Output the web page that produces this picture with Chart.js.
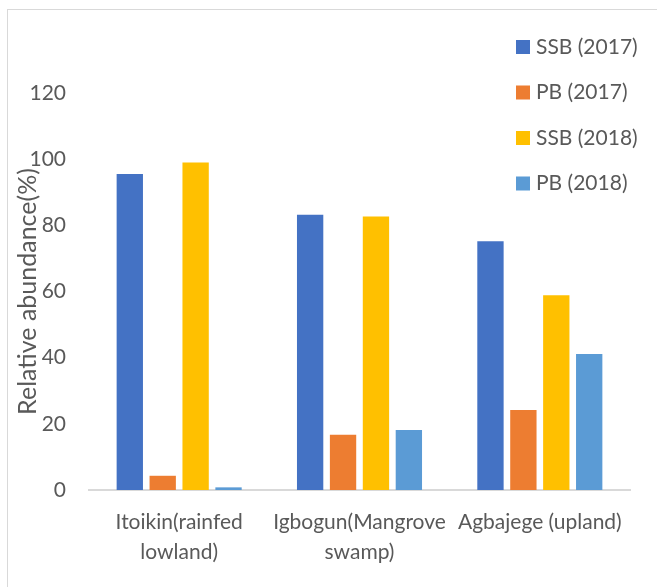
<!DOCTYPE html>
<html>
<head>
<meta charset="utf-8">
<script src="https://cdn.jsdelivr.net/npm/chart.js@4.4.0/dist/chart.umd.min.js"></script>
<style>
  html, body { margin: 0; padding: 0; background: #fff; }
  #wrap { position: relative; width: 657px; height: 587px; }
  #frame { position: absolute; left: 7px; top: 9px; right: 0; bottom: 0;
           border-left: 1px solid #d9d9d9; border-top: 1px solid #d9d9d9; }
  canvas { position: absolute; left: 0; top: 0; }
</style>
</head>
<body>
<div id="wrap">
  <div id="frame"></div>
  <canvas id="chart" width="657" height="587"></canvas>
</div>
<script>
// Sites (x categories)
const sites = [
    ['Itoikin(rainfed', 'lowland)'],
    ['Igbogun(Mangrove', 'swamp)'],
    ['Agbajege (upland)']
];

// Relative abundance (%) per series
const ssb2017 = [95.5, 83.2, 75.2];
const pb2017 = [4.3, 16.7, 24.2];
const ssb2018 = [99.0, 82.7, 58.9];
const pb2018 = [0.8, 18.1, 41.1];

const seriesNames = ['SSB (2017)', 'PB (2017)', 'SSB (2018)', 'PB (2018)'];
const seriesColors = ['#4472C4', '#ED7D31', '#FFC000', '#5B9BD5'];

const yTicks = [0, 20, 40, 60, 80, 100, 120];

const FONT = 'Lato, "Open Sans", sans-serif';
const TEXT = '#595959';

// Legend drawn on the right, overlapping the plot like the Excel original
const sideLegend = {
    id: 'sideLegend',
    afterDraw(chart) {
        const ctx = chart.ctx;
        ctx.save();
        ctx.font = '21px ' + FONT;
        ctx.textBaseline = 'middle';
        chart.data.datasets.forEach((ds, i) => {
            const y = 47 + i * 45.5;
            ctx.fillStyle = ds.backgroundColor;
            ctx.fillRect(516, y - 7, 14, 14);
            ctx.fillStyle = TEXT;
            ctx.fillText(ds.label, 536, y);
        });
        ctx.restore();
    }
};

const seriesData = [ssb2017, pb2017, ssb2018, pb2018];

new Chart(document.getElementById('chart'), {
    type: 'bar',
    data: {
        labels: sites,
        datasets: seriesData.map((d, i) => ({
            label: seriesNames[i],
            data: d,
            backgroundColor: seriesColors[i],
            barPercentage: 0.8,
            categoryPercentage: 0.73
        }))
    },
    options: {
        responsive: false,
        animation: false,
        layout: { padding: { top: 93, right: 27, left: 0, bottom: 0 } },
        plugins: {
            legend: { display: false },
            tooltip: { enabled: false }
        },
        scales: {
            x: {
                grid: { display: false, drawTicks: false },
                border: { display: true, color: '#d9d9d9', width: 2 },
                ticks: {
                    color: TEXT,
                    font: { family: FONT, size: 21, lineHeight: 1.4 },
                    padding: 18,
                    maxRotation: 0,
                    autoSkip: false
                },
                afterFit(scale) { scale.height = 97; }
            },
            y: {
                min: 0,
                max: 120,
                afterBuildTicks(scale) {
                    scale.ticks = yTicks.map(v => ({ value: v }));
                },
                grid: { display: false, drawTicks: false },
                border: { display: false },
                ticks: {
                    color: TEXT,
                    font: { family: FONT, size: 21 },
                    padding: 23
                },
                title: {
                    display: true,
                    text: 'Relative abundance(%)',
                    color: TEXT,
                    font: { family: FONT, size: 25 },
                    padding: { top: 13, bottom: 0 }
                },
                afterFit(scale) { scale.width = 89; }
            }
        }
    },
    plugins: [sideLegend]
});
</script>
</body>
</html>
